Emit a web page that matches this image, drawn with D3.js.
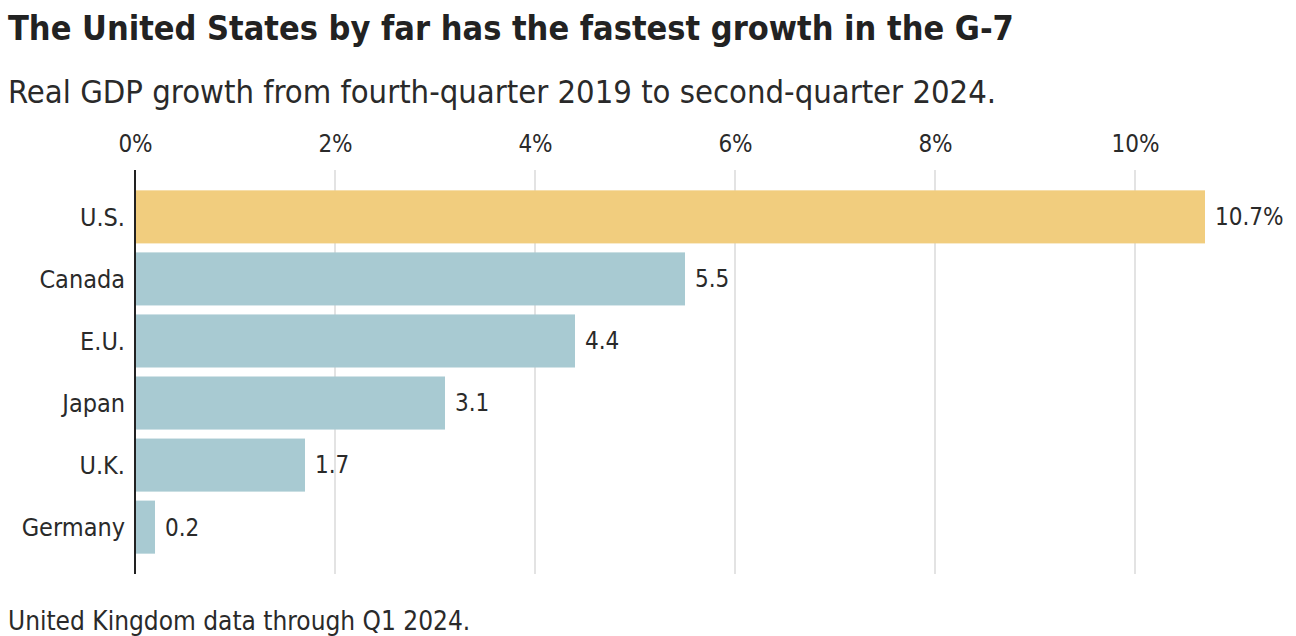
<!DOCTYPE html>
<html lang="en">
<head>
  <meta charset="UTF-8" />
  <title>G-7 GDP growth</title>
  <script src="https://d3js.org/d3.v7.min.js"></script>
  <style>
    body {
      margin: 0;
      background: #fff;
    }
    svg { display: block; }
    svg text { font-family: "Liberation Sans Narrow", "DejaVu Sans Condensed", sans-serif; }
    .title { font-size: 34px; font-weight: bold; fill: #222; }
    .subtitle { font-size: 32.5px; fill: #2a2a2a; }
    .note { font-size: 26px; fill: #2a2a2a; }
    .tick text { font-size: 24px; fill: #2a2a2a; }
    .cat .tick text { font-size: 25px; }
    .grid line { stroke: #dadada; stroke-width: 1.5px; }
    .value { font-size: 24px; fill: #2a2a2a; }
  </style>
</head>
<body>
<svg width="1296" height="636"></svg>
<script>
const countries = ["U.S.", "Canada", "E.U.", "Japan", "U.K.", "Germany"];
const growth = [10.7, 5.5, 4.4, 3.1, 1.7, 0.2];
const xTicks = [0, 2, 4, 6, 8, 10];

const svg = d3.select("svg");
const margin = { left: 135, top: 170, bottom: 574 };

svg.append("text").attr("class", "title")
  .attr("x", 8).attr("y", 40)
  .text("The United States by far has the fastest growth in the G-7");
svg.append("text").attr("class", "subtitle")
  .attr("x", 8).attr("y", 103)
  .text("Real GDP growth from fourth-quarter 2019 to second-quarter 2024.");
svg.append("text").attr("class", "note")
  .attr("x", 8).attr("y", 630)
  .text("United Kingdom data through Q1 2024.");

const x = d3.scaleLinear().domain([0, 10]).range([margin.left, 1135]);
const y = d3.scaleBand().domain(countries).range([186, 558]).paddingInner(0.145).paddingOuter(0.07);

// gridlines
svg.append("g").attr("class", "grid")
  .selectAll("line")
  .data(xTicks.slice(1))
  .join("line")
  .attr("x1", d => x(d)).attr("x2", d => x(d))
  .attr("y1", margin.top).attr("y2", margin.bottom);

// top axis labels
const xAxis = svg.append("g")
  .attr("transform", `translate(0, ${margin.top - 15})`)
  .call(d3.axisTop(x).tickValues(xTicks).tickSize(0).tickFormat(d => d + "%"));
xAxis.select(".domain").remove();
xAxis.attr("font-family", null).attr("font-size", null);

// bars
const data = countries.map((c, i) => ({ name: c, value: growth[i] }));
svg.append("g")
  .selectAll("rect")
  .data(data)
  .join("rect")
  .attr("x", x(0))
  .attr("y", d => y(d.name))
  .attr("width", d => x(d.value) - x(0))
  .attr("height", y.bandwidth())
  .attr("fill", (d, i) => i === 0 ? "#f1cd7e" : "#a8cad2");

// value labels
svg.append("g")
  .selectAll("text")
  .data(data)
  .join("text")
  .attr("class", "value")
  .attr("x", d => x(d.value) + 10)
  .attr("y", d => y(d.name) + y.bandwidth() / 2)
  .attr("dy", "0.35em")
  .text((d, i) => i === 0 ? d.value + "%" : d.value);

// category axis
const yAxis = svg.append("g")
  .attr("class", "cat")
  .attr("transform", `translate(${margin.left}, 0)`)
  .call(d3.axisLeft(y).tickSize(0).tickPadding(10));
yAxis.select(".domain").remove();
yAxis.attr("font-family", null).attr("font-size", null);
yAxis.selectAll("text").attr("dy", "0.35em");

svg.append("line")
  .attr("x1", margin.left).attr("x2", margin.left)
  .attr("y1", margin.top).attr("y2", margin.bottom)
  .attr("stroke", "#222").attr("stroke-width", 2);
</script>
</body>
</html>
